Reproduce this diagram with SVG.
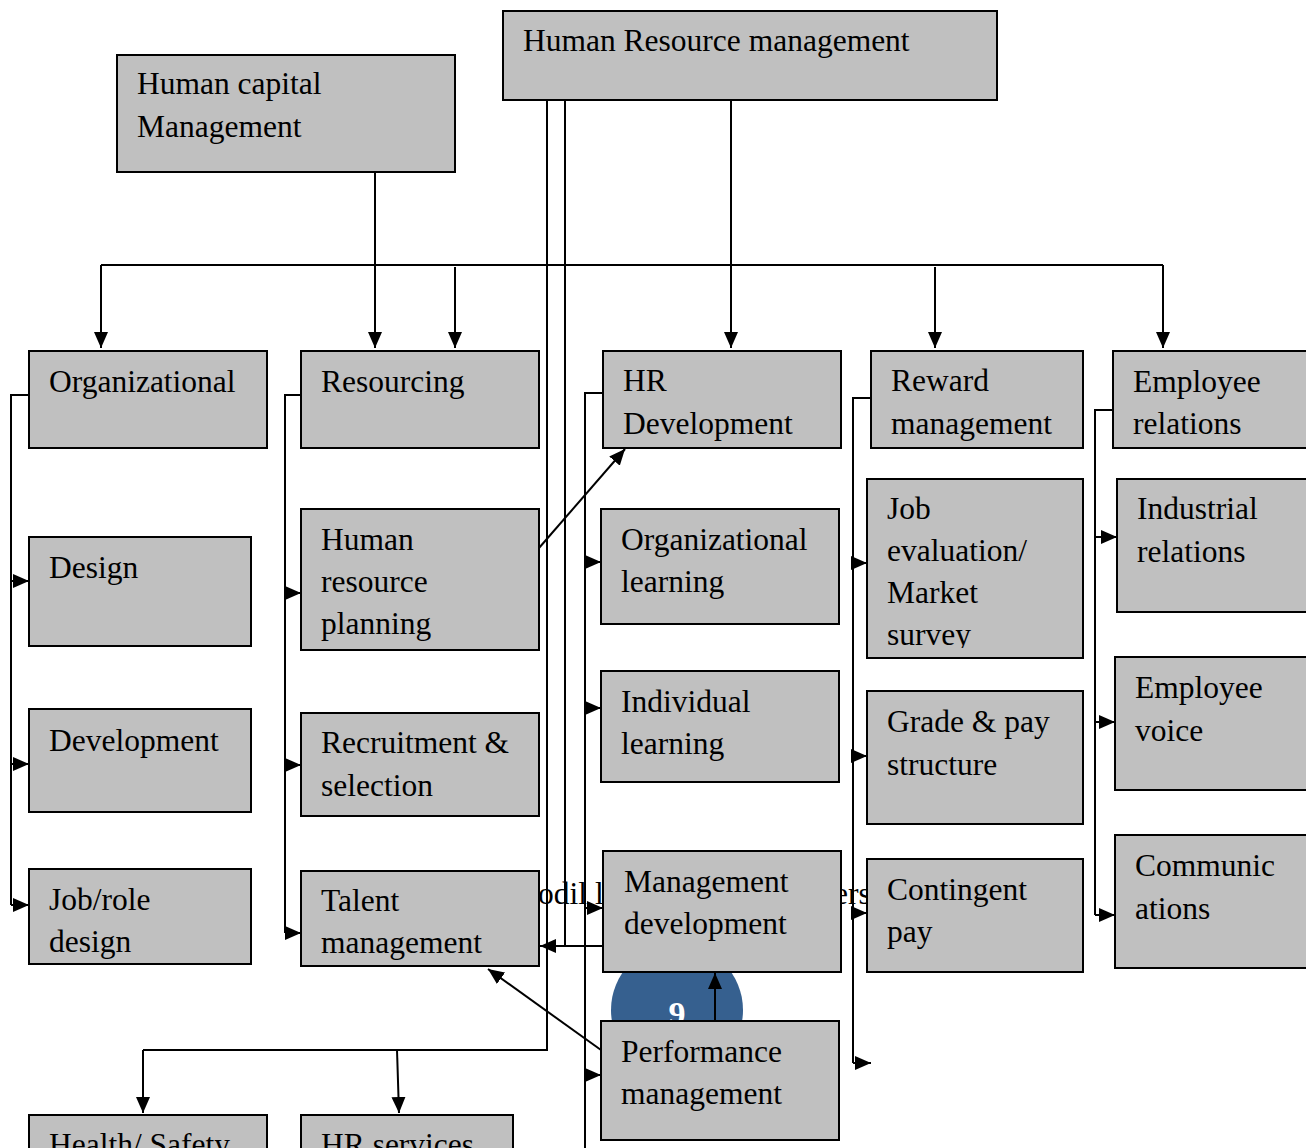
<svg xmlns="http://www.w3.org/2000/svg" width="1306" height="1148" viewBox="0 0 1306 1148">
  <style>
    .box { fill: #c0c0c0; stroke: #000; stroke-width: 2; }
    .lbl { font-family: "Liberation Serif", "Times New Roman", serif; font-size: 31.5px; fill: #000; }
    .ln { fill: none; stroke: #000; stroke-width: 2; }
    .arr { fill: none; stroke: #000; stroke-width: 2; marker-end: url(#ah); }
  </style>
  <defs>
    <marker id="ah" viewBox="0 0 16 14" refX="16" refY="7" markerWidth="16" markerHeight="14" markerUnits="userSpaceOnUse" orient="auto">
      <path d="M0,0 L16,7 L0,14 z" fill="#000"/>
    </marker>
    <clipPath id="jobClip"><rect x="867" y="479" width="216" height="169"/></clipPath>
  </defs>

  <rect width="1306" height="1148" fill="#fff"/>

  <!-- page footer text showing between the boxes -->
  <g id="footer-text" class="lbl">
    <text x="538" y="904">odil l</text>
    <text x="834" y="904">ers</text>
  </g>

  <!-- page number badge -->
  <g id="page-badge">
    <circle cx="677" cy="1010" r="66" fill="#36608f"/>
    <text x="677" y="1025" text-anchor="middle" font-family="Liberation Serif, serif" font-weight="bold" font-size="34" fill="#fff">9</text>
  </g>

  <!-- connectors -->
  <g id="connectors">
    <!-- top distribution bus -->
    <path class="ln" d="M101,265 H1163"/>
    <path class="arr" d="M101,265 V348"/>
    <path class="arr" d="M455,267 V348"/>
    <path class="arr" d="M935,267 V348"/>
    <path class="arr" d="M1163,265 V348"/>
    <path class="arr" d="M375,172 V348"/>
    <path class="arr" d="M731,100 V348"/>

    <!-- HRM down-links -->
    <path class="ln" d="M547,100 V1050 H143"/>
    <path class="arr" d="M143,1050 V1113"/>
    <path class="arr" d="M397,1050 L399,1113"/>
    <path class="ln" d="M565,100 V946"/>
    <path class="arr" d="M603,946 H540"/>

    <!-- Organizational bracket -->
    <path class="ln" d="M29,395 H11 V905"/>
    <path class="arr" d="M11,581 H29"/>
    <path class="arr" d="M11,764 H29"/>
    <path class="arr" d="M11,905 H29"/>

    <!-- Resourcing bracket -->
    <path class="ln" d="M301,395 H285 V933"/>
    <path class="arr" d="M285,593 H301"/>
    <path class="arr" d="M285,765 H301"/>
    <path class="arr" d="M285,933 H301"/>

    <!-- HR Development bracket -->
    <path class="ln" d="M603,393 H585 V1148"/>
    <path class="arr" d="M585,562 H601"/>
    <path class="arr" d="M585,708 H601"/>
    <path class="arr" d="M585,908 H603"/>
    <path class="arr" d="M585,1075 H601"/>

    <!-- Reward bracket -->
    <path class="ln" d="M871,398 H853 V1063"/>
    <path class="arr" d="M853,563 H867"/>
    <path class="arr" d="M853,756 H867"/>
    <path class="arr" d="M853,913 H867"/>
    <path class="arr" d="M853,1063 H871"/>

    <!-- Employee relations bracket -->
    <path class="ln" d="M1113,410 H1095 V915"/>
    <path class="arr" d="M1095,537 H1117"/>
    <path class="arr" d="M1095,722 H1115"/>
    <path class="arr" d="M1095,915 H1115"/>

    <!-- cross links -->
    <path class="arr" d="M539,548 L625,449"/>
    <path class="arr" d="M601,1050 L488,969"/>
    <path class="arr" d="M715,1021 V973"/>
  </g>

  <!-- top level -->
  <g id="human-capital-management">
    <rect class="box" x="117" y="55" width="338" height="117"/>
    <text class="lbl" x="137" y="94">Human capital</text>
    <text class="lbl" x="137" y="137">Management</text>
  </g>
  <g id="human-resource-management">
    <rect class="box" x="503" y="11" width="494" height="89"/>
    <text class="lbl" x="523" y="51">Human Resource management</text>
  </g>

  <!-- column heads -->
  <g id="organizational">
    <rect class="box" x="29" y="351" width="238" height="97"/>
    <text class="lbl" x="49" y="392">Organizational</text>
  </g>
  <g id="resourcing">
    <rect class="box" x="301" y="351" width="238" height="97"/>
    <text class="lbl" x="321" y="392">Resourcing</text>
  </g>
  <g id="hr-development">
    <rect class="box" x="603" y="351" width="238" height="97"/>
    <text class="lbl" x="623" y="391">HR</text>
    <text class="lbl" x="623" y="434">Development</text>
  </g>
  <g id="reward-management">
    <rect class="box" x="871" y="351" width="212" height="97"/>
    <text class="lbl" x="891" y="391">Reward</text>
    <text class="lbl" x="891" y="434">management</text>
  </g>
  <g id="employee-relations">
    <rect class="box" x="1113" y="351" width="210" height="97"/>
    <text class="lbl" x="1133" y="392">Employee</text>
    <text class="lbl" x="1133" y="434">relations</text>
  </g>

  <!-- Organizational column -->
  <g id="design">
    <rect class="box" x="29" y="537" width="222" height="109"/>
    <text class="lbl" x="49" y="578">Design</text>
  </g>
  <g id="development">
    <rect class="box" x="29" y="709" width="222" height="103"/>
    <text class="lbl" x="49" y="751">Development</text>
  </g>
  <g id="job-role-design">
    <rect class="box" x="29" y="869" width="222" height="95"/>
    <text class="lbl" x="49" y="910">Job/role</text>
    <text class="lbl" x="49" y="952">design</text>
  </g>

  <!-- Resourcing column -->
  <g id="human-resource-planning">
    <rect class="box" x="301" y="509" width="238" height="141"/>
    <text class="lbl" x="321" y="550">Human</text>
    <text class="lbl" x="321" y="592">resource</text>
    <text class="lbl" x="321" y="634">planning</text>
  </g>
  <g id="recruitment-selection">
    <rect class="box" x="301" y="713" width="238" height="103"/>
    <text class="lbl" x="321" y="753">Recruitment &amp;</text>
    <text class="lbl" x="321" y="796">selection</text>
  </g>
  <g id="talent-management">
    <rect class="box" x="301" y="871" width="238" height="95"/>
    <text class="lbl" x="321" y="911">Talent</text>
    <text class="lbl" x="321" y="953">management</text>
  </g>

  <!-- HR Development column -->
  <g id="organizational-learning">
    <rect class="box" x="601" y="509" width="238" height="115"/>
    <text class="lbl" x="621" y="550">Organizational</text>
    <text class="lbl" x="621" y="592">learning</text>
  </g>
  <g id="individual-learning">
    <rect class="box" x="601" y="671" width="238" height="111"/>
    <text class="lbl" x="621" y="712">Individual</text>
    <text class="lbl" x="621" y="754">learning</text>
  </g>
  <g id="management-development">
    <rect class="box" x="603" y="851" width="238" height="121"/>
    <text class="lbl" x="624" y="892">Management</text>
    <text class="lbl" x="624" y="934">development</text>
  </g>
  <g id="performance-management">
    <rect class="box" x="601" y="1021" width="238" height="119"/>
    <text class="lbl" x="621" y="1062">Performance</text>
    <text class="lbl" x="621" y="1104">management</text>
  </g>

  <!-- Reward column -->
  <g id="job-evaluation">
    <rect class="box" x="867" y="479" width="216" height="179"/>
    <g clip-path="url(#jobClip)">
      <text class="lbl" x="887" y="519">Job</text>
      <text class="lbl" x="887" y="561">evaluation/</text>
      <text class="lbl" x="887" y="603">Market</text>
      <text class="lbl" x="887" y="645">survey</text>
    </g>
  </g>
  <g id="grade-pay-structure">
    <rect class="box" x="867" y="691" width="216" height="133"/>
    <text class="lbl" x="887" y="732">Grade &amp; pay</text>
    <text class="lbl" x="887" y="775">structure</text>
  </g>
  <g id="contingent-pay">
    <rect class="box" x="867" y="859" width="216" height="113"/>
    <text class="lbl" x="887" y="900">Contingent</text>
    <text class="lbl" x="887" y="942">pay</text>
  </g>

  <!-- Employee relations column -->
  <g id="industrial-relations">
    <rect class="box" x="1117" y="479" width="206" height="133"/>
    <text class="lbl" x="1137" y="519">Industrial</text>
    <text class="lbl" x="1137" y="562">relations</text>
  </g>
  <g id="employee-voice">
    <rect class="box" x="1115" y="657" width="208" height="133"/>
    <text class="lbl" x="1135" y="698">Employee</text>
    <text class="lbl" x="1135" y="741">voice</text>
  </g>
  <g id="communications">
    <rect class="box" x="1115" y="835" width="208" height="133"/>
    <text class="lbl" x="1135" y="876">Communic</text>
    <text class="lbl" x="1135" y="919">ations</text>
  </g>

  <!-- bottom row -->
  <g id="health-safety">
    <rect class="box" x="29" y="1115" width="238" height="60"/>
    <text class="lbl" x="49" y="1155">Health/ Safety</text>
  </g>
  <g id="hr-services">
    <rect class="box" x="301" y="1115" width="212" height="60"/>
    <text class="lbl" x="321" y="1155">HR services</text>
  </g>
</svg>
